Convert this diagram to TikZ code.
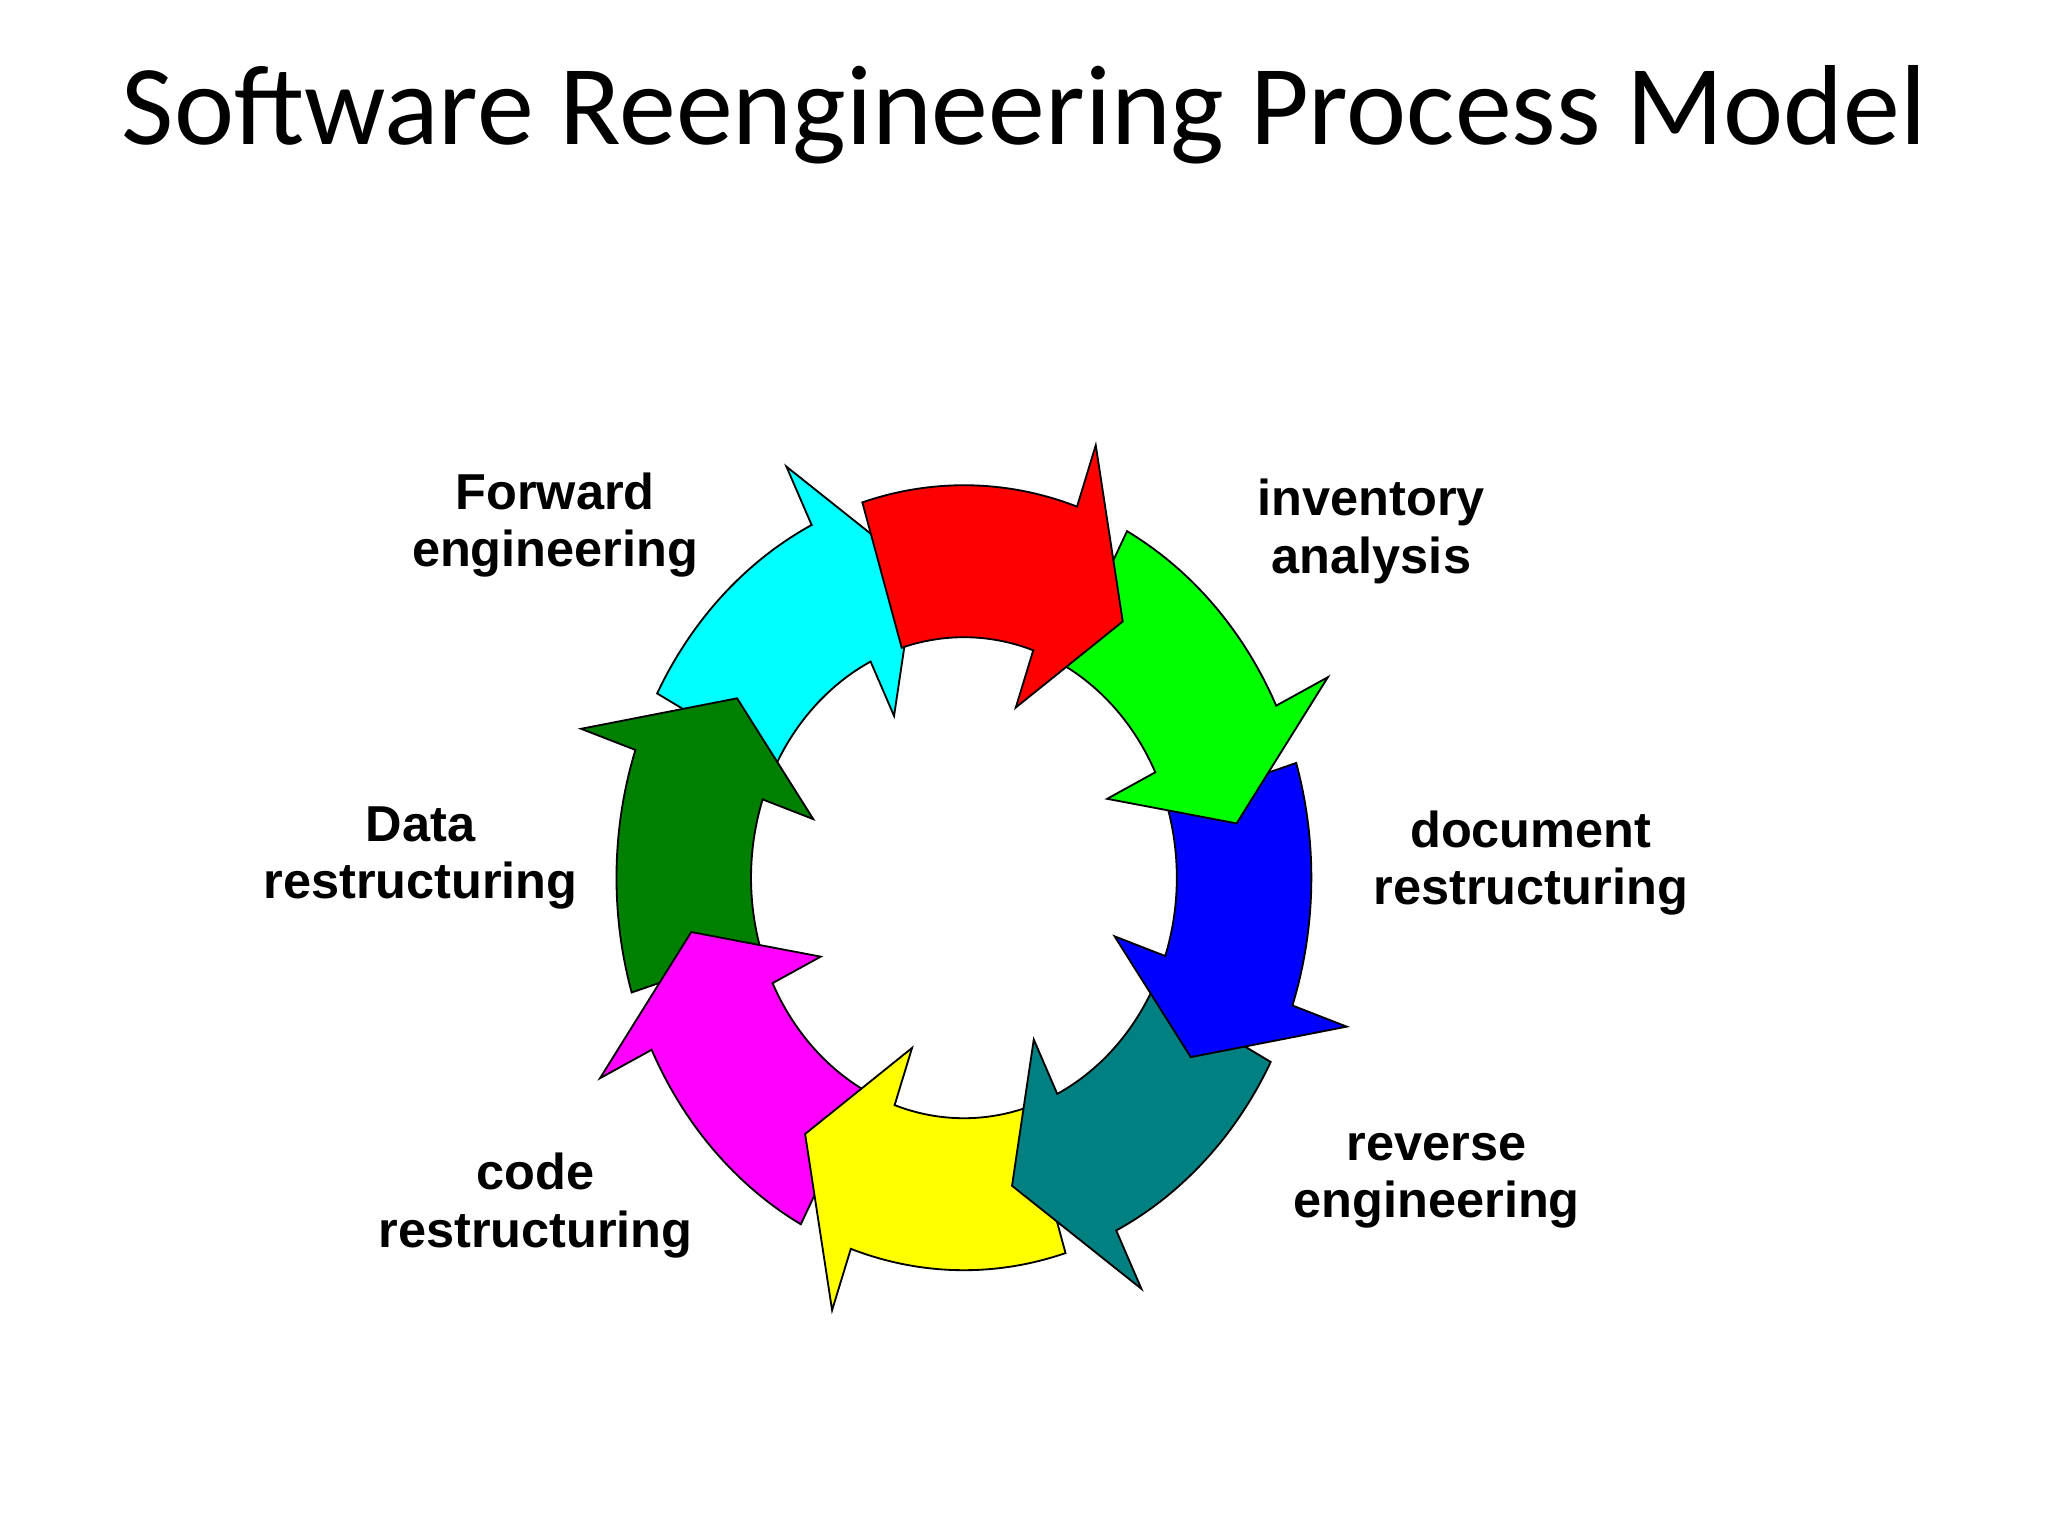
\documentclass[tikz,border=0pt]{standalone}
\usepackage{fontspec}
\setmainfont{Liberation Sans}
\newfontfamily\titlefont{Carlito}
\definecolor{cCyan}{RGB}{0,255,255}
\definecolor{cMag}{RGB}{255,0,255}
\definecolor{cYel}{RGB}{255,255,0}
\definecolor{cGrn}{RGB}{0,255,0}
\definecolor{cRed}{RGB}{255,0,0}
\definecolor{cBlu}{RGB}{0,0,255}
\definecolor{cTeal}{RGB}{0,128,128}
\definecolor{cDg}{RGB}{0,128,0}
\begin{document}
\begin{tikzpicture}[x=0.02cm,y=-0.02cm,
  lbl/.style={font=\fontsize{22}{25}\selectfont\bfseries,align=center},
  seg/.style={draw=black,line width=0.8pt,line join=miter}]
\useasboundingbox (0,0) rectangle (1568,1176);
\fill[white] (0,0) rectangle (1568,1176);
\node[font=\titlefont\fontsize{49.6}{52}\selectfont] (title) at (784,88) {Software Reengineering Process Model};
\begin{scope}[shift={(738,672)},x=0.02cm,y=0.0226cm]
\foreach \k/\c in {7/cCyan,6/cDg,5/cMag,4/cYel,3/cTeal,2/cBlu,1/cGrn,0/cRed}{
  \pgfmathsetmacro\s{107-45*\k}
  \pgfmathsetmacro\e{\s-52}
  \pgfmathsetmacro\h{\e+16}
  \filldraw[seg,fill=\c] (\s:266) arc[start angle=\s,end angle=\h,radius=266]
    -- (\h:310) -- (\e:212) -- (\h:122) -- (\h:163)
    arc[start angle=\h,end angle=\s,radius=163] -- cycle;
}
\end{scope}
\node[lbl] (fe) at (425,402) {Forward\\engineering};
\node[lbl] (ia) at (1050,407) {inventory\\analysis};
\node[lbl] (dr) at (1172,661) {document\\restructuring};
\node[lbl] (re) at (1100,904) {reverse\\engineering};
\node[lbl] (cr) at (410,923) {code\\restructuring};
\node[lbl] (da) at (322,657) {Data\\restructuring};
\end{tikzpicture}
\end{document}
